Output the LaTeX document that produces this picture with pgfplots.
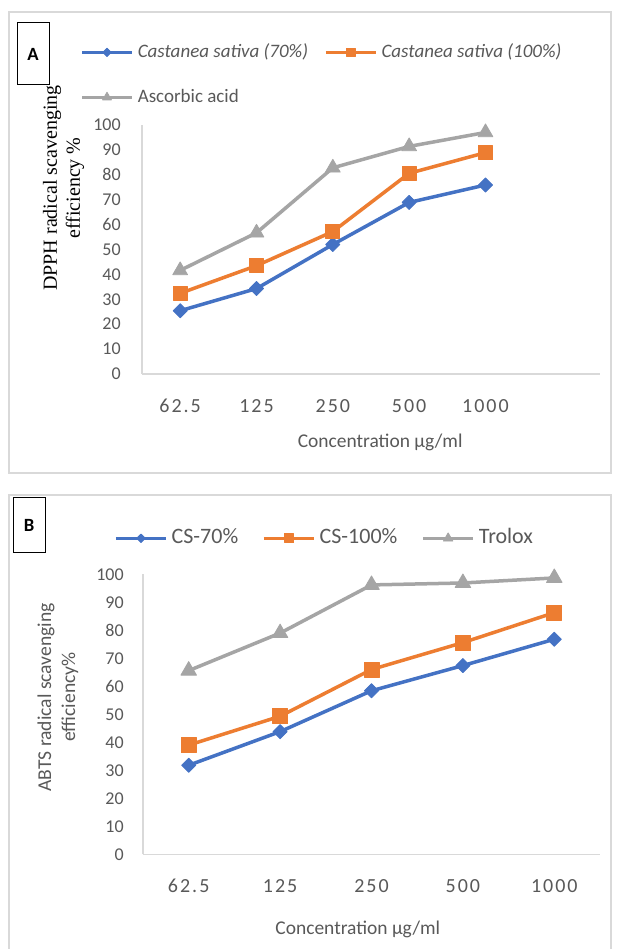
\documentclass[border=0pt]{standalone}
\usepackage{fontspec}
\setmainfont{Carlito}
\newfontfamily\timesfont{Liberation Serif}
\newfontfamily\spacedfont[LetterSpace=10]{Carlito}
\usepackage{pgfplots}
\pgfplotsset{compat=1.18}
\newlength\px \setlength\px{0.75pt}
\definecolor{cblue}{HTML}{4472C4}
\definecolor{corange}{HTML}{ED7D31}
\definecolor{cgray}{HTML}{A5A5A5}
\definecolor{ctext}{HTML}{595959}
\definecolor{caxis}{HTML}{D9D9D9}
\pgfplotsset{
 mystyle/.style={
  scale only axis,
  axis x line*=bottom, axis y line*=left,
  axis line style={caxis, line width=1.3\px, -},
  major tick length=0pt,
  ymin=0, ymax=100, ytick={0,10,...,100},
  xtick={0,...,4}, xticklabels={62.5,125,250,500,1000},
  /pgf/number format/assume math mode=true,
  yticklabel style={font=\fontsize{13.5}{16}\selectfont, text=ctext, anchor=east, inner sep=0pt},
  xticklabel style={font=\spacedfont\fontsize{15}{17}\selectfont, text=ctext, anchor=center, inner sep=0pt, yshift=-32\px},
  clip=false,
  legend cell align=left,
  legend image code/.code={\draw[mark repeat=2,mark phase=2,##1] plot coordinates {(0,0) (25\px,0) (50\px,0)};},
 },
 sblue/.style={color=cblue, line width=3.5\px, line join=round, mark=square*, mark size=#1, mark options={rotate=45, line width=0.8\px, fill=cblue}},
 sorange/.style={color=corange, line width=3.5\px, line join=round, mark=square*, mark size=#1, mark options={line width=0.8\px, fill=corange}},
 sgray/.style={color=cgray, line width=3.5\px, line join=round, mark=triangle*, mark size=#1, mark options={line width=0.8\px, fill=cgray}},
}
\begin{document}
\begin{tikzpicture}[x=\px, y=\px]
\fill[white] (0,0) rectangle (623,949);
\path[use as bounding box] (0,0) rectangle (623,949);
% frames
\draw[caxis, line width=1.5\px] (9,937) rectangle (611,476);
\draw[caxis, line width=1.5\px] (9,0) -- (9,454) -- (611,454) -- (611,0);
% panel labels
\draw[black, line width=1\px] (17,926) rectangle (49,864);
\node[font=\bfseries\fontsize{14}{16}\selectfont] at (33,895) {A};
\draw[black, line width=1\px] (13,451) rectangle (45,396);
\node[font=\bfseries\fontsize{14}{16}\selectfont] at (29,423.5) {B};

% ---------- Panel A ----------
\begin{axis}[mystyle,
  at={(142\px,575\px)}, anchor=south west,
  width=458\px, height=249\px,
  xmin=-0.5, xmax=5.5,
  yticklabel style={xshift=-21\px},
  xlabel={Concentration µg/ml},
  xlabel style={at={(axis description cs:0.520,-0.273)}, anchor=center, font=\fontsize{14.6}{17}\selectfont, text=ctext},
  ylabel={DPPH radical scavenging\\efficiency \%},
  ylabel style={at={(axis description cs:-0.171,0.747)}, anchor=center, align=center, font=\timesfont\fontsize{15}{17.25}\selectfont, text=black},
  legend columns=2,
  legend style={draw=none, fill=none, at={(-0.1354,1.329)}, anchor=north west, inner sep=0pt, row sep=27\px,
    font=\fontsize{14.25}{17}\selectfont,
    nodes={inner sep=0pt, text height=14\px, text depth=4\px, text=ctext},
    /tikz/every odd column/.append style={column sep=4\px},
    /tikz/every even column/.append style={column sep=16\px}},
  legend image post style={every mark/.append style={scale=0.6}},
]
\addplot[sblue=5\px] coordinates {(0,25.4) (1,34.3) (2,52.0) (3,68.9) (4,75.9)};
\addlegendentry{\textit{Castanea sativa (70\%)}}
\addplot[sorange=7\px] coordinates {(0,32.4) (1,43.5) (2,57.2) (3,80.6) (4,88.9)};
\addlegendentry{\textit{Castanea sativa (100\%)}}
\addplot[sgray=8.5\px] coordinates {(0,41.6) (1,56.7) (2,82.8) (3,91.4) (4,97.0)};
\addlegendentry{Ascorbic acid}
\end{axis}

% ---------- Panel B ----------
\begin{axis}[mystyle,
  at={(143\px,94.7\px)}, anchor=south west,
  width=457\px, height=280\px,
  xmin=-0.5, xmax=4.5,
  yticklabel style={xshift=-19\px},
  xlabel={Concentration µg/ml},
  xlabel style={at={(axis description cs:0.470,-0.267)}, anchor=center, font=\fontsize{14.6}{17}\selectfont, text=ctext},
  ylabel={ABTS radical scavenging\\efficiency\%},
  ylabel style={at={(axis description cs:-0.186,0.561)}, anchor=center, align=center, font=\fontsize{14.7}{18}\selectfont, text=ctext},
  legend columns=3,
  legend style={draw=none, fill=none, at={(-0.0635,1.167)}, anchor=north west, inner sep=0pt,
    font=\fontsize{16.5}{19}\selectfont,
    nodes={inner sep=0pt, text height=16\px, text depth=5\px, text=ctext},
    /tikz/every odd column/.append style={column sep=4\px},
    /tikz/every even column/.append style={column sep=24\px}},
  legend image post style={every mark/.append style={scale=0.6}},
]
\addplot[sblue=5\px] coordinates {(0,31.8) (1,43.8) (2,58.4) (3,67.4) (4,76.8)};
\addlegendentry{CS-70\%}
\addplot[sorange=7.5\px] coordinates {(0,39.0) (1,49.3) (2,66.0) (3,75.6) (4,86.3)};
\addlegendentry{CS-100\%}
\addplot[sgray=9\px] coordinates {(0,65.6) (1,79.0) (2,96.2) (3,96.9) (4,98.7)};
\addlegendentry{Trolox}
\end{axis}
\end{tikzpicture}
\end{document}
